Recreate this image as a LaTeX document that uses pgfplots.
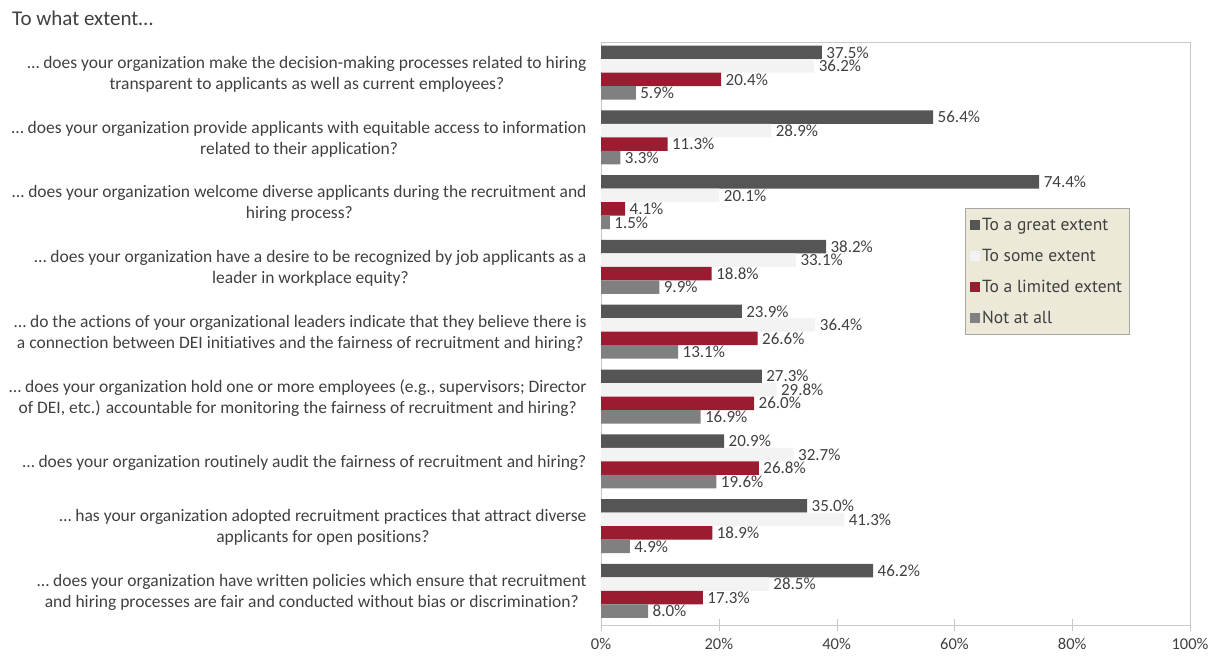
\documentclass[border=0pt]{standalone}
\usepackage{fontspec}
\setmainfont{Carlito}[Ligatures=NoCommon]
\newfontfamily\legfont{PT Sans}
\usepackage{pgfplots}
\usepackage{pgfplotstable}
\pgfplotsset{compat=1.18}

\definecolor{cdark}{RGB}{85,85,85}
\definecolor{clight}{RGB}{243,243,243}
\definecolor{cred}{RGB}{155,27,48}
\definecolor{cgray}{RGB}{128,128,128}
\definecolor{ctext}{RGB}{64,64,64}
\definecolor{cleg}{RGB}{236,233,216}
\definecolor{caxis}{RGB}{200,200,200}

% y = 8 is the top question, y = 0 the bottom one
\pgfplotstableread{
y x
8 37.5
7 56.4
6 74.4
5 38.2
4 23.9
3 27.3
2 20.9
1 35.0
0 46.2
}\great
\pgfplotstableread{
y x
8 36.2
7 28.9
6 20.1
5 33.1
4 36.4
3 29.8
2 32.7
1 41.3
0 28.5
}\some
\pgfplotstableread{
y x
8 20.4
7 11.3
6 4.1
5 18.8
4 26.6
3 26.0
2 26.8
1 18.9
0 17.3
}\limited
\pgfplotstableread{
y x
8 5.9
7 3.3
6 1.5
5 9.9
4 13.1
3 16.9
2 19.6
1 4.9
0 8.0
}\notatall

\begin{document}
\begin{tikzpicture}
\begin{axis}[
    scale only axis,
    width=589pt, height=583pt,
    xmin=0, xmax=100,
    ymin=-0.5, ymax=8.5,
    xtick={0,20,...,100},
    xtick pos=bottom, ytick pos=left,
    xticklabel={\pgfmathprintnumber{\tick}\%},
    /pgf/number format/assume math mode=true,
    ytick={0,...,8},
    yticklabels={
      {… does your organization have written policies which ensure that recruitment\\and hiring processes are fair and conducted without bias or discrimination?},
      {… has your organization adopted recruitment practices that attract diverse\\applicants for open positions?},
      {… does your organization routinely audit the fairness of recruitment and hiring?},
      {… does your organization hold one or more employees (e.g., supervisors; Director\\of DEI, etc.) accountable for monitoring the fairness of recruitment and hiring?},
      {… do the actions of your organizational leaders indicate that they believe there is\\a connection between DEI initiatives and the fairness of recruitment and hiring?},
      {… does your organization have a desire to be recognized by job applicants as a\\leader in workplace equity?},
      {… does your organization welcome diverse applicants during the recruitment and\\hiring process?},
      {… does your organization provide applicants with equitable access to information\\related to their application?},
      {… does your organization make the decision-making processes related to hiring\\transparent to applicants as well as current employees?}
    },
    minor ytick={-0.5,0.5,...,8.5},
    tick align=center,
    major tick length=12pt,
    minor tick length=10pt,
    ytick style={draw=none},
    minor tick style={draw=caxis},
    xtick style={draw=caxis},
    axis line style={draw=caxis},
    yticklabel style={font=\fontsize{17.5}{21}\selectfont, align=center, text=ctext, xshift=1pt},
    xticklabel style={font=\fontsize{16.5}{20}\selectfont, text=ctext, yshift=-4pt},
    xbar, bar width=13.5pt,
    nodes near coords={\pgfmathprintnumber[fixed,fixed zerofill,precision=1]{\pgfplotspointmeta}\%},
    nodes near coords style={font=\fontsize{17}{20}\selectfont, text=ctext, anchor=west, xshift=1pt},
    legend style={at={(rel axis cs:0.618,0.715)}, anchor=north west,
      fill=cleg, draw=gray!70, font=\legfont\fontsize{17.5}{20}\selectfont, text=ctext,
      row sep=13pt, inner xsep=5pt, inner ysep=8pt},
    legend cell align=left,
    legend image code/.code={\fill[#1] (2pt,-5pt) rectangle (12pt,5pt);},
  ]
  \addplot[fill=cdark, draw=none, bar shift=22pt] table[x=x,y=y]{\great};
  \addlegendentry{To a great extent}
  \addplot[fill=clight, draw=none, bar shift=8.5pt] table[x=x,y=y]{\some};
  \addlegendentry{To some extent}
  \addplot[fill=cred, draw=none, bar shift=-5pt] table[x=x,y=y]{\limited};
  \addlegendentry{To a limited extent}
  \addplot[fill=cgray, draw=none, bar shift=-18.5pt] table[x=x,y=y]{\notatall};
  \addlegendentry{Not at all}

  \coordinate (ttl) at (axis description cs:-1.0,1.0274);
  \coordinate (bl) at (axis description cs:-1.0204,-0.0532);
  \coordinate (tr) at (axis description cs:1.0424,1.0720);
\end{axis}
\node[anchor=base west, inner sep=0pt, font=\fontsize{21}{25}\selectfont, text=ctext] at (ttl) {To what extent…};
\pgfresetboundingbox
\useasboundingbox (bl) rectangle (tr);
\end{tikzpicture}
\end{document}
